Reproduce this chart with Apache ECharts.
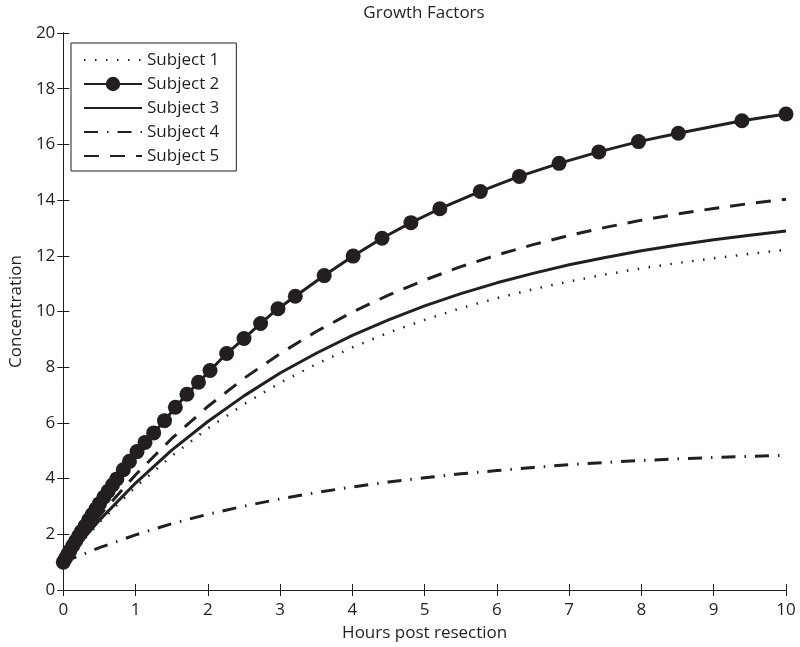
<!DOCTYPE html>
<html>
<head>
<meta charset="utf-8">
<script src="https://cdn.jsdelivr.net/npm/echarts@6/dist/echarts.min.js"></script>
<style>
html,body{margin:0;padding:0;background:#fff;}
#chart{width:800px;height:647px;}
</style>
</head>
<body>
<div id="chart"></div>
<script>
// ---- data ----
var titleText = 'Growth Factors';
var xName = 'Hours post resection';
var yName = 'Concentration';
var seriesNames = ['Subject 1', 'Subject 2', 'Subject 3', 'Subject 4', 'Subject 5'];

var tX = [0, 0.5, 1, 1.5, 2, 2.5, 3, 3.5, 4, 4.5, 5, 5.5, 6, 6.5, 7, 7.5, 8, 8.5, 9, 9.5, 10];
var s1Y = [1.00, 2.43, 3.70, 4.81, 5.80, 6.67, 7.44, 8.11, 8.71, 9.24, 9.70, 10.12, 10.48, 10.80, 11.08, 11.33, 11.55, 11.74, 11.91, 12.07, 12.22];
var s3Y = [1.00, 2.51, 3.84, 5.02, 6.05, 6.97, 7.79, 8.50, 9.14, 9.70, 10.20, 10.64, 11.03, 11.37, 11.68, 11.94, 12.18, 12.39, 12.58, 12.74, 12.89];
var s4Y = [1.00, 1.52, 1.98, 2.38, 2.72, 3.01, 3.27, 3.50, 3.70, 3.88, 4.03, 4.17, 4.29, 4.40, 4.50, 4.58, 4.65, 4.71, 4.76, 4.80, 4.84];
var s5Y = [1.00, 2.67, 4.14, 5.44, 6.59, 7.60, 8.49, 9.28, 9.98, 10.59, 11.13, 11.61, 12.03, 12.40, 12.73, 13.02, 13.28, 13.50, 13.70, 13.88, 14.03];

var s2X = [0, 0.03, 0.06, 0.09, 0.13, 0.17, 0.21, 0.25, 0.30, 0.35, 0.40, 0.45, 0.50, 0.56, 0.62, 0.68, 0.74, 0.83, 0.915, 1.02, 1.13, 1.25, 1.40, 1.55, 1.71, 1.87, 2.03, 2.26, 2.50, 2.73, 2.97, 3.21, 3.61, 4.01, 4.41, 4.81, 5.21, 5.77, 6.31, 6.86, 7.41, 7.96, 8.51, 9.39, 10.0];
var s2Y = [1.00, 1.14, 1.28, 1.41, 1.59, 1.76, 1.93, 2.10, 2.30, 2.51, 2.71, 2.91, 3.10, 3.33, 3.55, 3.77, 3.99, 4.32, 4.62, 4.97, 5.30, 5.64, 6.08, 6.56, 7.03, 7.46, 7.88, 8.49, 9.03, 9.57, 10.10, 10.55, 11.29, 11.99, 12.63, 13.19, 13.69, 14.31, 14.85, 15.32, 15.73, 16.10, 16.40, 16.85, 17.09];

var xMin = 0, xMax = 10, xStep = 1;
var yMin = 0, yMax = 20, yStep = 2;

// ---- build ----
function pairs(xs, ys) { return xs.map(function (x, i) { return [x, ys[i]]; }); }
var ink = '#231f20';
var font = 'Open Sans';

var chart = echarts.init(document.getElementById('chart'), null, {renderer: 'canvas'});

function lineSeries(name, data, lineType, width) {
  return {
    name: name, type: 'line', data: data, xAxisIndex: 0, yAxisIndex: 0,
    symbol: 'none', smooth: false, clip: false,
    lineStyle: {color: ink, width: width, type: lineType, cap: 'butt', join: 'round'},
    itemStyle: {color: ink},
    emphasis: {disabled: true}
  };
}

var axisCommon = {
  type: 'value',
  axisLine: {show: true, lineStyle: {color: ink, width: 1}},
  axisTick: {show: true, inside: true, length: 6, lineStyle: {color: ink, width: 1}},
  splitLine: {show: false},
  axisLabel: {color: ink, fontSize: 17, fontFamily: font}
};

var option = {
  animation: false,
  backgroundColor: '#fff',
  title: {
    text: titleText, left: 424, top: 0, textAlign: 'center', padding: [5, 0, 0, 0],
    textStyle: {color: ink, fontSize: 17, fontWeight: 'normal', fontFamily: font}
  },
  grid: {left: 62, right: 14, top: 33, bottom: 57, containLabel: false},
  legend: {
    left: 71, top: 43, orient: 'vertical',
    padding: [8, 17, 6, 12],
    itemWidth: 58, itemHeight: 18, itemGap: 6,
    borderColor: ink, borderWidth: 1, backgroundColor: '#fff',
    textStyle: {color: ink, fontSize: 17, fontFamily: font, lineHeight: 18},
    data: [
      {name: seriesNames[0], itemStyle: {opacity: 0}},
      {name: seriesNames[1]},
      {name: seriesNames[2], itemStyle: {opacity: 0}},
      {name: seriesNames[3], itemStyle: {opacity: 0}},
      {name: seriesNames[4], itemStyle: {opacity: 0}}
    ],
    selectedMode: false
  },
  xAxis: [
    Object.assign({}, axisCommon, {
      position: 'bottom', min: xMin, max: xMax, interval: xStep,
      name: xName, nameLocation: 'middle', nameGap: 35,
      nameTextStyle: {color: ink, fontSize: 17, fontFamily: font},
      axisLabel: {color: ink, fontSize: 17, fontFamily: font, margin: 12}
    }),
    Object.assign({}, axisCommon, {
      position: 'top', min: xMin, max: xMax, interval: xStep,
      axisLabel: {show: false}
    })
  ],
  yAxis: [
    Object.assign({}, axisCommon, {
      position: 'left', min: yMin, max: yMax, interval: yStep,
      name: yName, nameLocation: 'middle', nameGap: 38, nameRotate: 90,
      nameTextStyle: {color: ink, fontSize: 17, fontFamily: font},
      axisLabel: {color: ink, fontSize: 17, fontFamily: font, margin: 8}
    }),
    Object.assign({}, axisCommon, {
      position: 'right', min: yMin, max: yMax, interval: yStep,
      axisLabel: {show: false}
    })
  ],
  series: [
    lineSeries(seriesNames[0], pairs(tX, s1Y), [1.5, 9.5], 2.5),
    {
      name: seriesNames[1], type: 'line', data: pairs(s2X, s2Y), xAxisIndex: 0, yAxisIndex: 0,
      symbol: 'circle', symbolSize: 15, showSymbol: true, clip: false,
      lineStyle: {color: ink, width: 3},
      itemStyle: {color: ink},
      emphasis: {disabled: true}
    },
    lineSeries(seriesNames[2], pairs(tX, s3Y), 'solid', 3),
    lineSeries(seriesNames[3], pairs(tX, s4Y), [14, 9, 1.5, 9], 3),
    lineSeries(seriesNames[4], pairs(tX, s5Y), [15, 11], 3)
  ]
};
chart.setOption(option);
</script>
</body>
</html>
